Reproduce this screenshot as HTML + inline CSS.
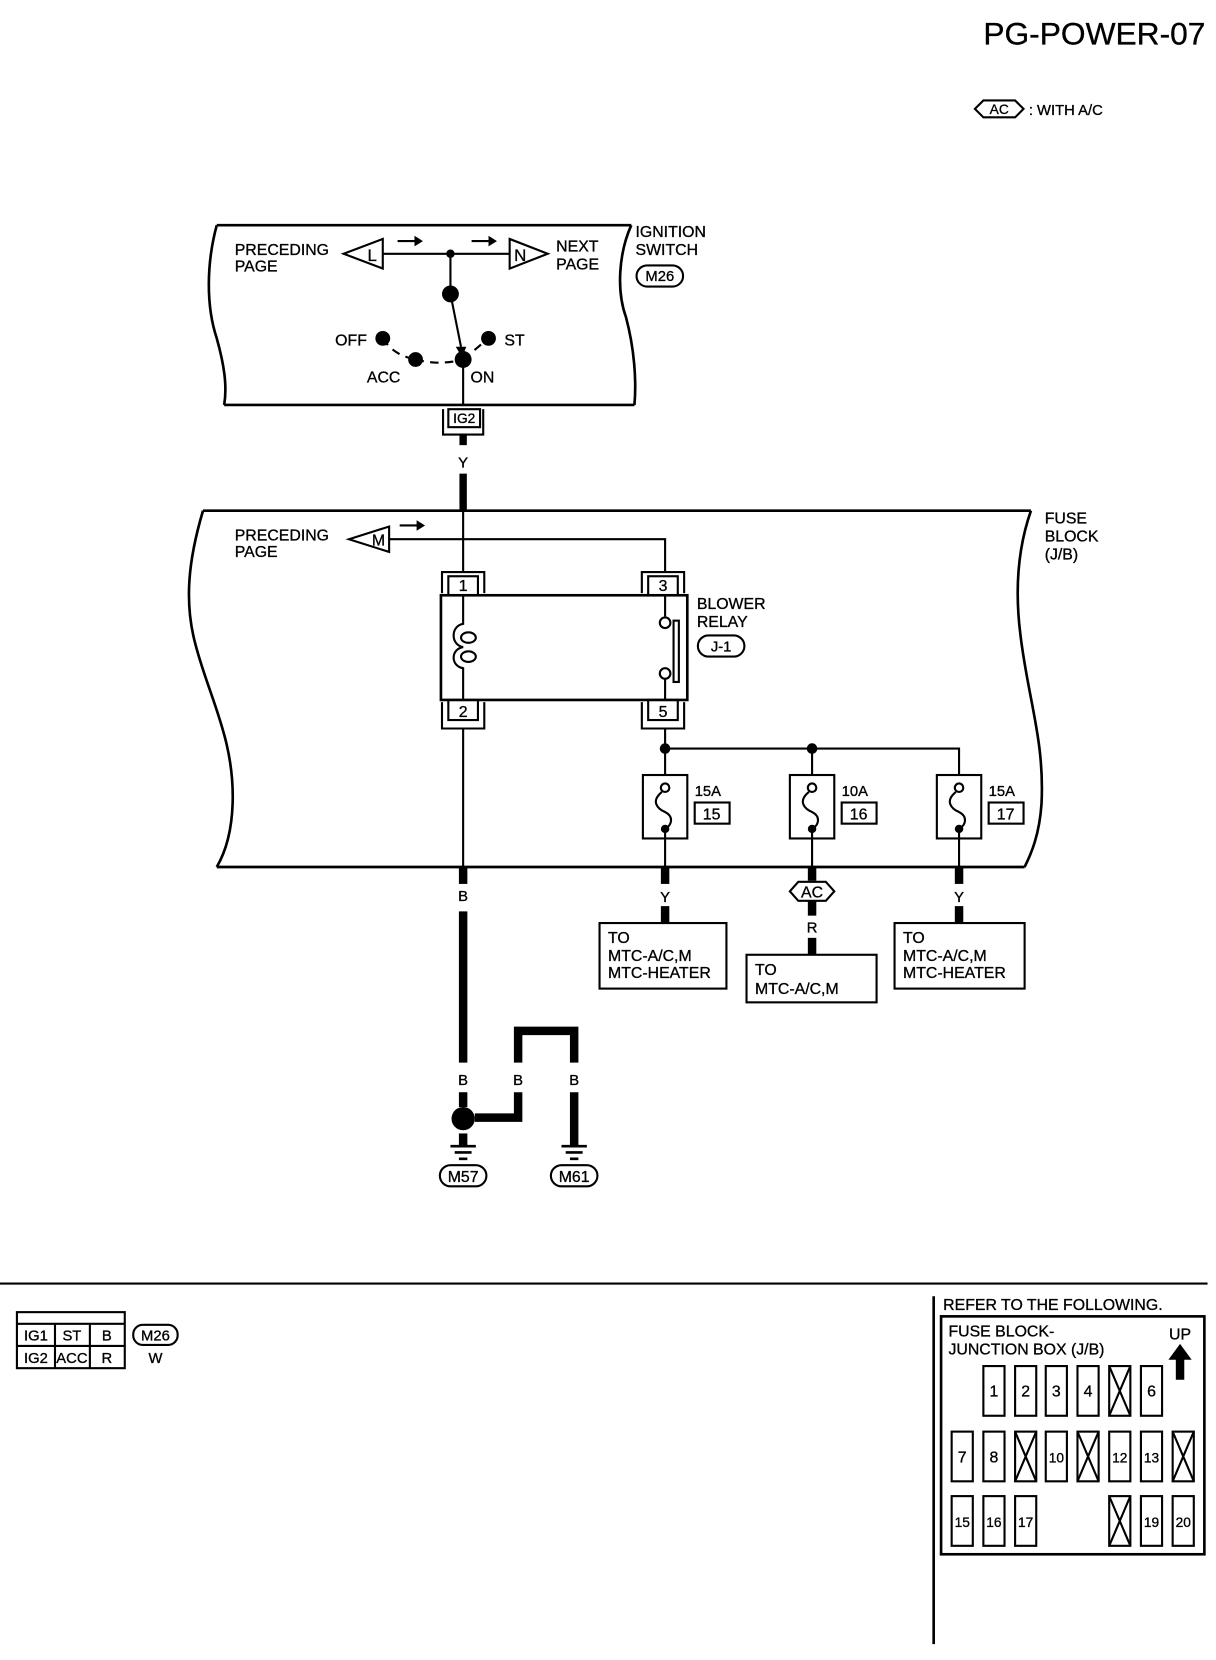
<!DOCTYPE html>
<html><head><meta charset="utf-8"><style>
html,body{margin:0;padding:0;background:#fff}
svg{display:block}
text{font-family:"Liberation Sans",sans-serif;fill:#000;stroke:#000;stroke-width:0.3}
</style></head><body>
<svg width="1216" height="1660" viewBox="0 0 1150 1570" preserveAspectRatio="none" xmlns="http://www.w3.org/2000/svg">
<text x="1140" y="42" font-size="30" text-anchor="end">PG-POWER-07</text>
<polygon points="922,103 930,95 960,95 968,103 960,111 930,111" fill="none" stroke="#000" stroke-width="2"/>
<text x="945" y="108" font-size="13" text-anchor="middle">AC</text>
<text x="973" y="109" font-size="14">: WITH A/C</text>

<g fill="none" stroke="#000" stroke-width="2.5">
<path d="M205,213 L597,213"/>
<path d="M205,213 C195,250 195,290 205,320 C212,345 215,365 212,383"/>
<path d="M212,383 L600,383"/>
<path d="M597,213 C585,240 583,275 592,300 C600,330 602,360 600,383"/>
</g>
<text x="222" y="241" font-size="15">PRECEDING</text>
<text x="222" y="257" font-size="15">PAGE</text>
<text x="526" y="238" font-size="15">NEXT</text>
<text x="526" y="255" font-size="15">PAGE</text>
<text x="601" y="224" font-size="15">IGNITION</text>
<text x="601" y="241" font-size="15">SWITCH</text>
<rect x="602" y="251" width="44" height="20" rx="10" fill="none" stroke="#000" stroke-width="2"/>
<text x="624" y="266" font-size="14" text-anchor="middle">M26</text>
<g stroke="#000" stroke-width="2" fill="none">
<polygon points="325,240 362,226 362,254"/>
<polygon points="482,226 482,254 518,240"/>
<line x1="362" y1="240" x2="482" y2="240"/>
<line x1="426" y1="240" x2="426" y2="278"/>
<line x1="426" y1="278" x2="436" y2="328"/>
<line x1="438" y1="340" x2="438" y2="383"/>
<path d="M362,320 Q372,336 393,340" stroke-dasharray="8,6"/>
<path d="M393,340 Q415,346 438,340" stroke-dasharray="8,6"/>
<line x1="438" y1="340" x2="462" y2="320" stroke-dasharray="8,6"/>
</g>
<text x="352" y="247" font-size="16" text-anchor="middle">L</text>
<text x="492" y="247" font-size="16" text-anchor="middle">N</text>
<polygon points="376,227 392,227 392,223 400,228 392,233 392,229 376,229" fill="#000"/>
<polygon points="446,227 462,227 462,223 470,228 462,233 462,229 446,229" fill="#000"/>
<polygon points="431,328 441,328 437,338" fill="#000"/>
<circle cx="426" cy="240" r="4" fill="#000"/>
<circle cx="426" cy="278" r="8" fill="#000"/>
<circle cx="362" cy="320" r="7" fill="#000"/>
<circle cx="393" cy="340" r="7" fill="#000"/>
<circle cx="438" cy="340" r="8" fill="#000"/>
<circle cx="462" cy="320" r="7" fill="#000"/>
<text x="317" y="327" font-size="15">OFF</text>
<text x="477" y="327" font-size="15">ST</text>
<text x="347" y="362" font-size="15">ACC</text>
<text x="445" y="362" font-size="15">ON</text>
<g fill="none" stroke="#000" stroke-width="2">
<rect x="424" y="387" width="30" height="17"/>
<path d="M419,387 V411 H457 V387"/>
</g>
<text x="439" y="400" font-size="13" text-anchor="middle">IG2</text>
<line x1="438" y1="411" x2="438" y2="421" stroke="#000" stroke-width="7"/>
<text x="438" y="442" font-size="14" text-anchor="middle">Y</text>
<line x1="438" y1="448" x2="438" y2="483" stroke="#000" stroke-width="7"/>

<g fill="none" stroke="#000" stroke-width="2.5">
<path d="M192,483 L975,483"/>
<path d="M192,483 C178,530 174,570 185,610 C198,660 222,700 220,760 C219,790 212,808 205,820"/>
<path d="M205,820 L969,820"/>
<path d="M975,483 C962,520 960,560 965,600 C972,660 988,700 985,760 C983,790 975,808 969,820"/>
</g>
<text x="222" y="511" font-size="15">PRECEDING</text>
<text x="222" y="527" font-size="15">PAGE</text>
<text x="988" y="495" font-size="15">FUSE</text>
<text x="988" y="512" font-size="15">BLOCK</text>
<text x="988" y="529" font-size="15">(J/B)</text>
<g stroke="#000" stroke-width="2" fill="none">
<polygon points="330,510 368,498 368,522"/>
<path d="M368,510 H629 V541"/>
<line x1="438" y1="483" x2="438" y2="541"/>
</g>
<text x="358" y="516" font-size="15" text-anchor="middle">M</text>
<polygon points="378,496 394,496 394,492 402,497 394,502 394,498 378,498" fill="#000"/>

<g fill="none" stroke="#000" stroke-width="2">
<path d="M418,561 V541 H458 V561"/><rect x="424" y="545" width="28" height="18"/>
<path d="M607,561 V541 H647 V561"/><rect x="613" y="545" width="28" height="18"/>
<rect x="417" y="563" width="233" height="99" stroke-width="2.5"/>
<path d="M418,664 V689 H458 V664"/><rect x="424" y="662" width="28" height="19"/>
<path d="M607,664 V689 H647 V664"/><rect x="613" y="662" width="28" height="19"/>
<path d="M438,563 V590 C426,592 426,610 438,612 C426,614 426,630 438,632 V662"/>
<ellipse cx="443" cy="603" rx="7" ry="5"/>
<ellipse cx="443" cy="621" rx="7" ry="5"/>
<line x1="629" y1="563" x2="629" y2="583"/>
<circle cx="629" cy="589" r="5"/>
<circle cx="629" cy="637" r="5"/>
<line x1="629" y1="642" x2="629" y2="662"/>
<rect x="637" y="587" width="5" height="58"/>
</g>
<text x="438" y="559" font-size="15" text-anchor="middle">1</text>
<text x="627" y="559" font-size="15" text-anchor="middle">3</text>
<text x="438" y="678" font-size="15" text-anchor="middle">2</text>
<text x="627" y="678" font-size="15" text-anchor="middle">5</text>
<text x="659" y="576" font-size="15">BLOWER</text>
<text x="659" y="593" font-size="15">RELAY</text>
<rect x="660" y="601" width="44" height="20" rx="10" fill="none" stroke="#000" stroke-width="2"/>
<text x="682" y="616" font-size="14" text-anchor="middle">J-1</text>

<g stroke="#000" stroke-width="2" fill="none">
<line x1="438" y1="689" x2="438" y2="820"/>
<path d="M629,689 V733 M629,708 H907 V733 M768,708 V733"/>
<rect x="608" y="733" width="42" height="60"/>
<rect x="747" y="733" width="42" height="60"/>
<rect x="886" y="733" width="42" height="60"/>
<rect x="657" y="759" width="33" height="20"/>
<rect x="796" y="759" width="33" height="20"/>
<rect x="935" y="759" width="33" height="20"/>
<g id="f"><circle cx="629" cy="745" r="4"/><path d="M626,749 C615,758 622,765 629,768 C637,772 636,780 629,784"/><line x1="629" y1="784" x2="629" y2="820"/></g>
<use href="#f" x="139"/><use href="#f" x="278"/>
</g>
<circle cx="629" cy="708" r="5" fill="#000"/>
<circle cx="768" cy="708" r="5" fill="#000"/>
<circle cx="629" cy="784" r="4" fill="#000"/>
<circle cx="768" cy="784" r="4" fill="#000"/>
<circle cx="907" cy="784" r="4" fill="#000"/>
<text x="657" y="753" font-size="14">15A</text>
<text x="796" y="753" font-size="14">10A</text>
<text x="935" y="753" font-size="14">15A</text>
<text x="673" y="775" font-size="15" text-anchor="middle">15</text>
<text x="812" y="775" font-size="15" text-anchor="middle">16</text>
<text x="951" y="775" font-size="15" text-anchor="middle">17</text>

<g stroke="#000" stroke-width="8">
<line x1="438" y1="820" x2="438" y2="836"/>
<line x1="438" y1="862" x2="438" y2="1005"/>
<line x1="438" y1="1033" x2="438" y2="1047"/>
<line x1="629" y1="820" x2="629" y2="836"/>
<line x1="629" y1="857" x2="629" y2="873"/>
<line x1="768" y1="820" x2="768" y2="833"/>
<line x1="768" y1="852" x2="768" y2="866"/>
<line x1="768" y1="887" x2="768" y2="903"/>
<line x1="907" y1="820" x2="907" y2="836"/>
<line x1="907" y1="857" x2="907" y2="873"/>
</g>
<text x="438" y="852" font-size="14" text-anchor="middle">B</text>
<text x="629" y="853" font-size="14" text-anchor="middle">Y</text>
<text x="907" y="853" font-size="14" text-anchor="middle">Y</text>
<polygon points="747,843 755,834 781,834 789,843 781,852 755,852" fill="#fff" stroke="#000" stroke-width="2"/>
<text x="768" y="849" font-size="15" text-anchor="middle">AC</text>
<text x="768" y="882" font-size="14" text-anchor="middle">R</text>
<g fill="none" stroke="#000" stroke-width="2">
<rect x="567" y="873" width="120" height="62"/>
<rect x="706" y="903" width="123" height="45"/>
<rect x="846" y="873" width="123" height="62"/>
</g>
<g font-size="15">
<text x="575" y="892">TO</text><text x="575" y="909">MTC-A/C,M</text><text x="575" y="925">MTC-HEATER</text>
<text x="714" y="922">TO</text><text x="714" y="940">MTC-A/C,M</text>
<text x="854" y="892">TO</text><text x="854" y="909">MTC-A/C,M</text><text x="854" y="925">MTC-HEATER</text>
</g>

<g stroke="#000" stroke-width="8" fill="none">
<path d="M449,1057 H490 V1033"/>
<path d="M490,1005 V975 H543 V1005"/>
<line x1="543" y1="1033" x2="543" y2="1083"/>
<line x1="438" y1="1072" x2="438" y2="1083"/>
</g>
<circle cx="438" cy="1058" r="11" fill="#000"/>
<text x="438" y="1026" font-size="14" text-anchor="middle">B</text>
<text x="490" y="1026" font-size="14" text-anchor="middle">B</text>
<text x="543" y="1026" font-size="14" text-anchor="middle">B</text>
<g stroke="#000" stroke-width="2.5">
<line x1="426" y1="1084" x2="450" y2="1084"/><line x1="430" y1="1090" x2="446" y2="1090"/><line x1="434" y1="1096" x2="442" y2="1096"/>
<line x1="531" y1="1084" x2="555" y2="1084"/><line x1="535" y1="1090" x2="551" y2="1090"/><line x1="539" y1="1096" x2="547" y2="1096"/>
</g>
<rect x="416" y="1102" width="44" height="20" rx="10" fill="none" stroke="#000" stroke-width="2"/>
<text x="438" y="1118" font-size="15" text-anchor="middle">M57</text>
<rect x="521" y="1102" width="44" height="20" rx="10" fill="none" stroke="#000" stroke-width="2"/>
<text x="543" y="1118" font-size="15" text-anchor="middle">M61</text>

<line x1="0" y1="1214" x2="1142" y2="1214" stroke="#000" stroke-width="2"/>
<line x1="883" y1="1226" x2="883" y2="1555" stroke="#000" stroke-width="2.5"/>
<g fill="none" stroke="#000" stroke-width="2">
<rect x="16" y="1241" width="102" height="53"/>
<line x1="16" y1="1252" x2="118" y2="1252"/>
<line x1="16" y1="1273" x2="118" y2="1273"/>
<line x1="52" y1="1252" x2="52" y2="1294"/>
<line x1="85" y1="1252" x2="85" y2="1294"/>
</g>
<g font-size="14" text-anchor="middle">
<text x="34" y="1268">IG1</text><text x="68" y="1268">ST</text><text x="101" y="1268">B</text>
<text x="34" y="1289">IG2</text><text x="68" y="1289">ACC</text><text x="101" y="1289">R</text>
</g>
<rect x="126" y="1253" width="42" height="19" rx="9" fill="none" stroke="#000" stroke-width="2"/>
<text x="147" y="1268" font-size="14" text-anchor="middle">M26</text>
<text x="147" y="1289" font-size="14" text-anchor="middle">W</text>

<text x="892" y="1239" font-size="15">REFER TO THE FOLLOWING.</text>
<rect x="890" y="1245" width="249" height="225" fill="none" stroke="#000" stroke-width="2.5"/>
<text x="897" y="1264" font-size="15">FUSE BLOCK-</text>
<text x="897" y="1281" font-size="15">JUNCTION BOX (J/B)</text>
<text x="1116" y="1267" font-size="15" text-anchor="middle">UP</text>
<polygon points="1116,1271 1127,1286 1120,1286 1120,1305 1112,1305 1112,1286 1105,1286" fill="#000"/>
<g fill="none" stroke="#000" stroke-width="2">
<rect x="930" y="1292" width="20" height="47"/><rect x="960" y="1292" width="20" height="47"/><rect x="989" y="1292" width="20" height="47"/><rect x="1019" y="1292" width="20" height="47"/><rect x="1049" y="1292" width="20" height="47"/><rect x="1079" y="1292" width="20" height="47"/>
<path d="M1049,1292 L1069,1339 M1069,1292 L1049,1339"/>
<rect x="900" y="1354" width="20" height="47"/><rect x="930" y="1354" width="20" height="47"/><rect x="960" y="1354" width="20" height="47"/><rect x="989" y="1354" width="20" height="47"/><rect x="1019" y="1354" width="20" height="47"/><rect x="1049" y="1354" width="20" height="47"/><rect x="1079" y="1354" width="20" height="47"/><rect x="1109" y="1354" width="20" height="47"/>
<path d="M960,1354 L980,1401 M980,1354 L960,1401 M1019,1354 L1039,1401 M1039,1354 L1019,1401 M1109,1354 L1129,1401 M1129,1354 L1109,1401"/>
<rect x="900" y="1415" width="20" height="47"/><rect x="930" y="1415" width="20" height="47"/><rect x="960" y="1415" width="20" height="47"/><rect x="1049" y="1415" width="20" height="47"/><rect x="1079" y="1415" width="20" height="47"/><rect x="1109" y="1415" width="20" height="47"/>
<path d="M1049,1415 L1069,1462 M1069,1415 L1049,1462"/>
</g>
<g font-size="15" text-anchor="middle">
<text x="940" y="1321">1</text><text x="970" y="1321">2</text><text x="999" y="1321">3</text><text x="1029" y="1321">4</text><text x="1089" y="1321">6</text>
<text x="910" y="1383">7</text><text x="940" y="1383">8</text><text x="999" y="1383" font-size="13">10</text><text x="1059" y="1383" font-size="13">12</text><text x="1089" y="1383" font-size="13">13</text>
<text x="910" y="1444" font-size="13">15</text><text x="940" y="1444" font-size="13">16</text><text x="970" y="1444" font-size="13">17</text><text x="1089" y="1444" font-size="13">19</text><text x="1119" y="1444" font-size="13">20</text>
</g>
</svg>
</body></html>
